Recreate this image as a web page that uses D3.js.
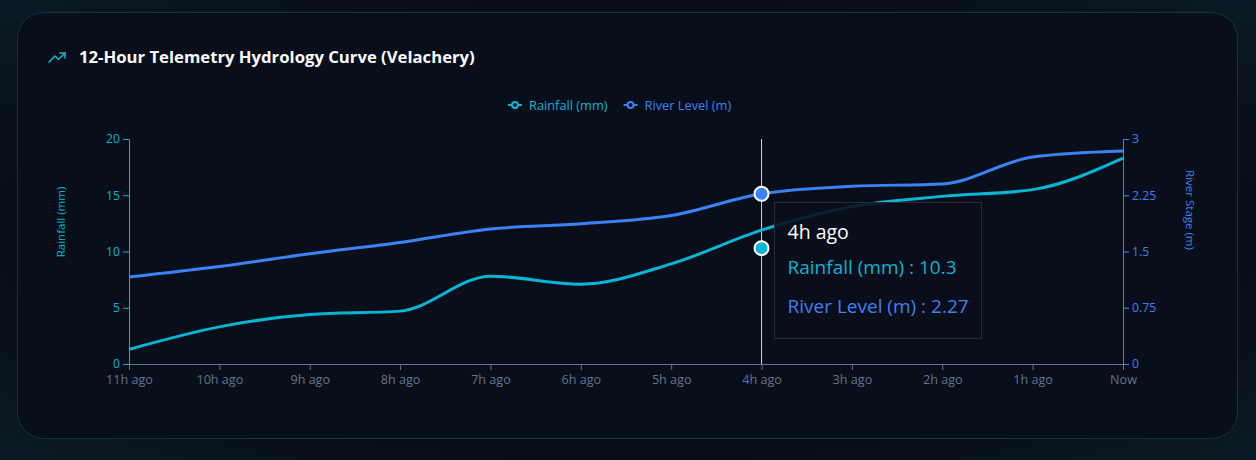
<!DOCTYPE html>
<html><head><meta charset="utf-8">
<script src="https://cdn.jsdelivr.net/npm/d3@7"></script>
<style>
html,body{margin:0;padding:0;width:1256px;height:460px;overflow:hidden;
background:radial-gradient(ellipse at 50% 50%, #070b14 60%, #0a1a24 100%);font-family:"Open Sans","Noto Sans",sans-serif;}
svg{display:block}
svg text{font-family:"Open Sans","Noto Sans",sans-serif;}
</style></head><body>
<svg id="chart" width="1256" height="460"></svg>
<script>
const hours = ["11h ago","10h ago","9h ago","8h ago","7h ago","6h ago","5h ago","4h ago","3h ago","2h ago","1h ago","Now"];
const rainfall = [1.3, 3.3, 4.4, 4.7, 7.8, 7.1, 8.9, 11.9, 14.0, 14.9, 15.5, 18.3];
const riverLevel = [1.16, 1.30, 1.47, 1.62, 1.80, 1.87, 1.98, 2.27, 2.37, 2.40, 2.76, 2.84];
const rainTicks = [0, 5, 10, 15, 20];
const riverTicks = [0, 0.75, 1.5, 2.25, 3];
const hoverLabel = "4h ago";
const hoverRainfall = 10.3;
const hoverRiver = 2.27;
const title = "12-Hour Telemetry Hydrology Curve (Velachery)";

const rainColor = "#06b6d4", riverColor = "#3b82f6", gray = "#64748b";
const FONT = '"Open Sans","Noto Sans",sans-serif';
const svg = d3.select("#chart");

// card
svg.append("rect").attr("x",17.5).attr("y",12.5).attr("width",1220).attr("height",426)
  .attr("rx",26).attr("fill","#090e1b").attr("stroke","#123544").attr("stroke-width",1);

// title + icon
const icon = svg.append("g").attr("transform","translate(48,50)").attr("fill","none")
  .attr("stroke",rainColor).attr("stroke-width",1.6).attr("stroke-linecap","round").attr("stroke-linejoin","round");
icon.append("polyline").attr("points","1,12 7,6 10.5,9.5 17,3");
icon.append("polyline").attr("points","12,3 17,3 17,8");
svg.append("text").attr("x",79).attr("y",63).attr("fill","#f8fafc").attr("font-size",16.7)
  .attr("font-weight",700).text(title);

const x = d3.scalePoint().domain(hours).range([129,1123]);
const yL = d3.scaleLinear().domain([0,20]).range([364,139]);
const yR = d3.scaleLinear().domain([0,3]).range([364,139]);

function styleAxis(g, color, size){
  g.attr("font-family",FONT);
  g.select(".domain").attr("stroke",color);
  g.selectAll(".tick line").attr("stroke",color);
  g.selectAll(".tick text").attr("fill",color).attr("font-size",size);
}

// axes
const gx = svg.append("g").attr("transform","translate(0,364)")
  .call(d3.axisBottom(x).tickSizeOuter(0).tickSize(6).tickPadding(5.5));
styleAxis(gx, gray, 12.6);

const gl = svg.append("g").attr("transform","translate(129,0)")
  .call(d3.axisLeft(yL).tickValues(rainTicks).tickSize(6).tickSizeOuter(0).tickPadding(3));
styleAxis(gl, rainColor, 12.2);

const gr = svg.append("g").attr("transform","translate(1123,0)")
  .call(d3.axisRight(yR).tickValues(riverTicks).tickFormat(d=>String(d)).tickSize(6).tickSizeOuter(0).tickPadding(3));
styleAxis(gr, riverColor, 12.2);

svg.append("text").attr("transform","translate(65,222) rotate(-90)").attr("text-anchor","middle")
  .attr("fill",rainColor).attr("font-size",11.5).text("Rainfall (mm)");
svg.append("text").attr("transform","translate(1186,210) rotate(90)").attr("text-anchor","middle")
  .attr("fill",riverColor).attr("font-size",11.5).text("River Stage (m)");

// legend
const legend = [{name:"Rainfall (mm)",c:rainColor},{name:"River Level (m)",c:riverColor}];
const lg = svg.append("g");
let lx = 508;
legend.forEach((d,i)=>{
  const g = lg.append("g").attr("transform",`translate(${lx},105)`);
  g.append("line").attr("x1",0).attr("x2",14).attr("y1",0).attr("y2",0).attr("stroke",d.c).attr("stroke-width",2);
  g.append("circle").attr("cx",7).attr("cy",0).attr("r",3).attr("fill","#090e1b").attr("stroke",d.c).attr("stroke-width",2);
  const t = g.append("text").attr("x",21).attr("y",4.5).attr("fill",d.c).attr("font-size",12.8).text(d.name);
  lx += 21 + t.node().getComputedTextLength() + 16;
});

// cursor
svg.append("line").attr("x1",x(hoverLabel)).attr("x2",x(hoverLabel)).attr("y1",139).attr("y2",364)
  .attr("stroke","#d1d5db").attr("stroke-width",1);

// lines
const lineL = d3.line().x((d,i)=>x(hours[i])).y(d=>yL(d)).curve(d3.curveMonotoneX);
const lineR = d3.line().x((d,i)=>x(hours[i])).y(d=>yR(d)).curve(d3.curveMonotoneX);
svg.append("path").attr("d",lineL(rainfall)).attr("fill","none").attr("stroke",rainColor).attr("stroke-width",3);
svg.append("path").attr("d",lineR(riverLevel)).attr("fill","none").attr("stroke",riverColor).attr("stroke-width",3);

// active dots
svg.append("circle").attr("cx",x(hoverLabel)).attr("cy",yL(hoverRainfall)).attr("r",7)
  .attr("fill",rainColor).attr("stroke","#fff").attr("stroke-width",2);
svg.append("circle").attr("cx",x(hoverLabel)).attr("cy",yR(hoverRiver)).attr("r",7)
  .attr("fill",riverColor).attr("stroke","#fff").attr("stroke-width",2);

// tooltip
const tt = svg.append("g").attr("transform","translate(774.5,202.5)");
tt.append("rect").attr("width",207).attr("height",136).attr("fill","rgba(10,14,26,0.88)")
  .attr("stroke","#272c38").attr("stroke-width",1);
tt.append("text").attr("x",13).attr("y",36).attr("fill","#ffffff").attr("font-size",19.5).text(hoverLabel);
tt.append("text").attr("x",13).attr("y",71).attr("fill",rainColor).attr("font-size",19).text(`Rainfall (mm) : ${hoverRainfall}`);
tt.append("text").attr("x",13).attr("y",110).attr("fill",riverColor).attr("font-size",19).text(`River Level (m) : ${hoverRiver}`);
</script>
</body></html>
